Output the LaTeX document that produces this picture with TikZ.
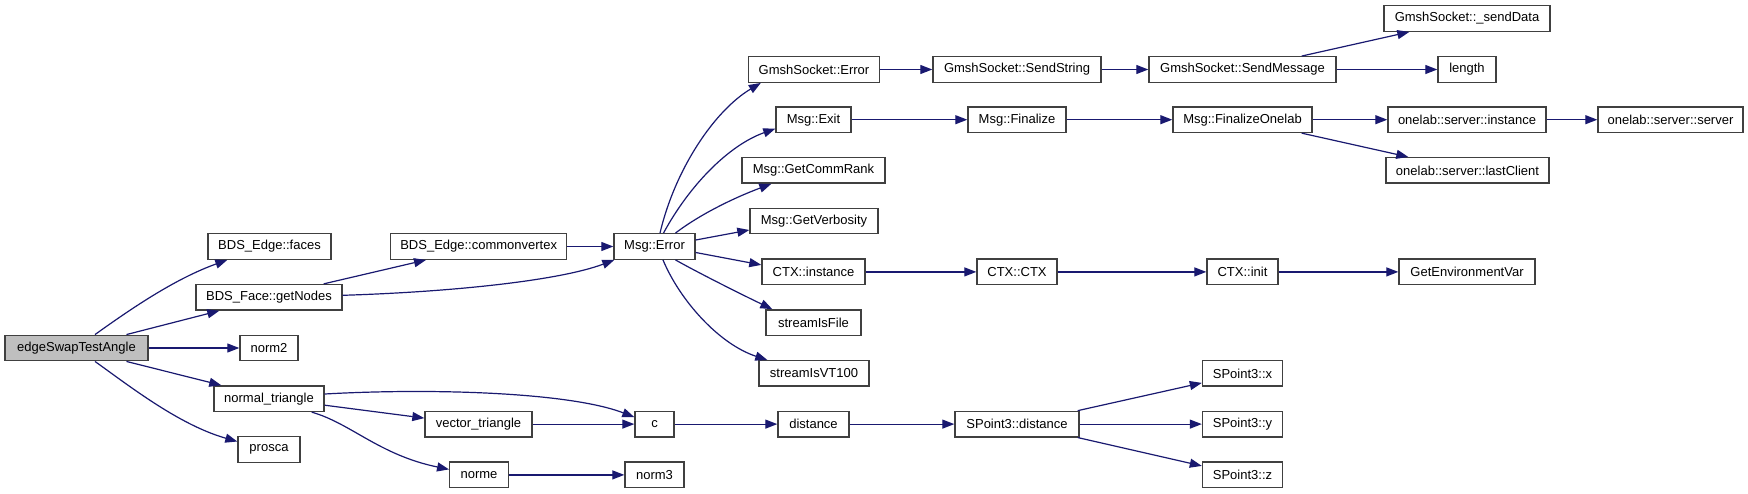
\documentclass[tikz,border=0pt]{standalone}
\usepackage{fontspec}
\setmainfont{Liberation Sans}
\usetikzlibrary{arrows.meta,calc}
\definecolor{edgecol}{RGB}{25,25,112}
\definecolor{boxline}{RGB}{64,64,64}
\definecolor{rootfill}{RGB}{191,191,191}
\begin{document}
\begin{tikzpicture}[x=1pt,y=-1pt,
  box/.style={draw=boxline,line width=1.4pt,fill=white,rectangle,inner sep=0pt,
    minimum height=25.5pt,font=\fontsize{13}{15}\selectfont},
  root/.style={box,fill=rootfill},
  call/.style={draw=edgecol,line width=1.2pt,-{Triangle[length=12pt,width=9pt]}}]
\useasboundingbox (0,0) rectangle (1748,493);
\fill[white] (0,0) rectangle (1748,493);

% nodes
\node[root,minimum width=143pt] (es) at (76.5,348) {edgeSwapTestAngle};
\node[box,minimum width=123pt] (bef) at (269.5,246.5) {BDS\_Edge::faces};
\node[box,minimum width=146pt] (bfg) at (269,297.3) {BDS\_Face::getNodes};
\node[box,minimum width=58pt] (n2) at (269,348) {norm2};
\node[box,minimum width=110pt] (nt) at (269,398.7) {normal\_triangle};
\node[box,minimum width=62pt] (pr) at (269,449.5) {prosca};
\node[box,minimum width=176pt] (bec) at (478.7,246.5) {BDS\_Edge::commonvertex};
\node[box,minimum width=107pt] (vt) at (478.5,424.1) {vector\_triangle};
\node[box,minimum width=58.5pt] (nm) at (479,474.9) {norme};
\node[box,minimum width=81pt] (me) at (654.5,246.5) {Msg::Error};
\node[box,minimum width=39pt] (c) at (654.5,424.1) {c};
\node[box,minimum width=59pt] (n3) at (654.5,474.9) {norm3};
\node[box,minimum width=131pt] (gse) at (814,69.5) {GmshSocket::Error};
\node[box,minimum width=75pt] (mx) at (813.5,119.7) {Msg::Exit};
\node[box,minimum width=143pt] (gcr) at (813.5,170.4) {Msg::GetCommRank};
\node[box,minimum width=128pt] (gv) at (814,221) {Msg::GetVerbosity};
\node[box,minimum width=103pt] (ci) at (813.5,271.9) {CTX::instance};
\node[box,minimum width=95pt] (sif) at (813.5,322.6) {streamIsFile};
\node[box,minimum width=110pt] (svt) at (814,373.4) {streamIsVT100};
\node[box,minimum width=71pt] (di) at (813.5,424.1) {distance};
\node[box,minimum width=168pt] (gss) at (1017,69.5) {GmshSocket::SendString};
\node[box,minimum width=98pt] (mf) at (1017,119.7) {Msg::Finalize};
\node[box,minimum width=80pt] (cc) at (1017,271.9) {CTX::CTX};
\node[box,minimum width=124pt] (sd) at (1017,424.1) {SPoint3::distance};
\node[box,minimum width=187pt] (gsm) at (1242.5,69.5) {GmshSocket::SendMessage};
\node[box,minimum width=139pt] (mfo) at (1242.5,119.7) {Msg::FinalizeOnelab};
\node[box,minimum width=71pt] (cin) at (1242.5,271.9) {CTX::init};
\node[box,minimum width=80pt] (sx) at (1242.5,373.4) {SPoint3::x};
\node[box,minimum width=80pt] (sy) at (1242.5,424.1) {SPoint3::y};
\node[box,minimum width=80pt] (sz) at (1242.5,474.9) {SPoint3::z};
\node[box,minimum width=166pt] (gsd) at (1467,18.5) {GmshSocket::\_sendData};
\node[box,minimum width=58pt] (len) at (1467,69.5) {length};
\node[box,minimum width=158pt] (osi) at (1467,119.7) {onelab::server::instance};
\node[box,minimum width=163pt] (osl) at (1467.5,170.4) {onelab::server::lastClient};
\node[box,minimum width=136pt] (gev) at (1467,271.9) {GetEnvironmentVar};
\node[box,minimum width=145pt] (oss) at (1670.5,119.7) {onelab::server::server};

% connectors
\draw[call] ($(es.north)+(18.5,0)$) .. controls +(35,-25) and +(-53,19) .. ($(bef.south west)+(20,0)$);
\draw[call] ($(es.north)+(50,0)$) -- ($(bfg.south west)+(24,0)$);
\draw[call] (es) -- (n2);
\draw[call] ($(es.south)+(50,0)$) -- ($(nt.north west)+(8,0)$);
\draw[call] ($(es.south)+(18.5,0)$) .. controls +(35,25) and +(-58,-16.5) .. ($(pr.west)+(0,-8)$);
\draw[call] ($(bfg.north east)+(-19,0)$) -- ($(bec.south west)+(36,0)$);
\draw[call] ($(bfg.east)+(0,-2)$) .. controls +(108,-3.3) and +(-55,20.75) .. ($(me.south west)+(1,0)$);
\draw[call] (bec) -- (me);
\draw[call] ($(me.north)+(5.5,0)$) .. controls +(15,-63.75) and +(-46.5,27.75) .. ($(gse.south west)+(13,0)$);
\draw[call] ($(me.north)+(9,0)$) .. controls +(26.5,-48.75) and +(-46,16.3) .. ($(mx.west)+(0,9)$);
\draw[call] ($(me.north)+(21,0)$) .. controls +(24.5,-18.75) and +(-37,13.85) .. ($(gcr.south west)+(30,0)$);
\draw[call] ($(me.east)+(0,-6.5)$) -- ($(gv.west)+(0,9)$);
\draw[call] ($(me.east)+(0,6)$) -- ($(ci.west)+(0,-7)$);
\draw[call] ($(me.south)+(21,0)$) .. controls +(24.5,13.75) and +(-28,-13.35) .. ($(sif.north west)+(7,0)$);
\draw[call] ($(me.south)+(8.5,0)$) .. controls +(17,40.75) and +(-48,-15.65) .. ($(svt.north west)+(9,0)$);
\draw[call] (gse) -- (gss);
\draw[call] (gss) -- (gsm);
\draw[call] ($(gsm.north east)+(-35,0)$) -- ($(gsd.south west)+(26,0)$);
\draw[call] (gsm) -- (len);
\draw[call] (mx) -- (mf);
\draw[call] (mf) -- (mfo);
\draw[call] (mfo) -- (osi);
\draw[call] ($(mfo.south east)+(-11,0)$) -- ($(osl.north west)+(23,0)$);
\draw[call] (osi) -- (oss);
\draw[call] (ci) -- (cc);
\draw[call] (cc) -- (cin);
\draw[call] (cin) -- (gev);
\draw[call] ($(nt.east)+(0,-4.7)$) .. controls +(106,-6) and +(-65,-25) .. ($(c.west)+(0,-7)$);
\draw[call] ($(nt.east)+(0,6.5)$) -- ($(vt.west)+(0,-6)$);
\draw[call] ($(nt.south east)+(-13,0)$) .. controls +(39,11) and +(-69.75,-14.4) .. ($(nm.west)+(0,-5.5)$);
\draw[call] (vt) -- (c);
\draw[call] (c) -- (di);
\draw[call] (di) -- (sd);
\draw[call] (nm) -- (n3);
\draw[call] ($(sd.north east)+(-2,0)$) -- ($(sx.west)+(0,9.5)$);
\draw[call] (sd) -- (sy);
\draw[call] ($(sd.south east)+(-2,0)$) -- ($(sz.west)+(0,-9)$);
\end{tikzpicture}
\end{document}
